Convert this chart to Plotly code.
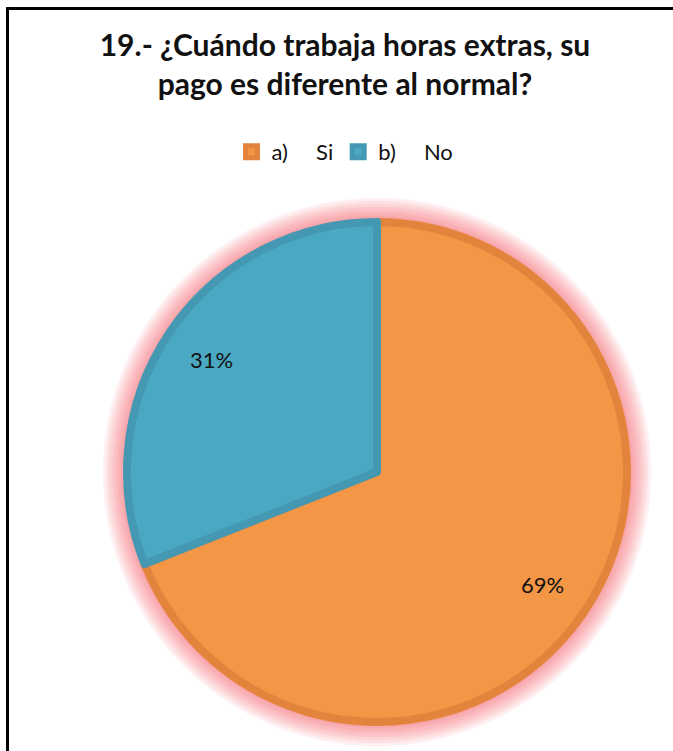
import math
import plotly.graph_objects as go

labels = ["a)\u00a0\u00a0\u00a0\u00a0\u00a0Si", "b)\u00a0\u00a0\u00a0\u00a0\u00a0No"]
values = [69, 31]
fill_colors = ["#F39646", "#4AA8C3"]
edge_colors = ["#E3843D", "#4598B2"]
title_text = "<b>19.- ¿Cuándo trabaja horas extras, su<br>pago es diferente al normal?</b>"

W, H = 673, 751
cx, cy, R = 377, 472, 250  # pie centre / radius in pixels (from top-left)
FONT = "Lato, Open Sans, sans-serif"

def px_x(x):
    return x / W

def px_y(y):
    return 1 - y / H

fig = go.Figure()
fig.add_trace(go.Pie(
    labels=labels,
    values=values,
    sort=False,
    direction="clockwise",
    rotation=0,
    marker=dict(colors=fill_colors, line=dict(color=edge_colors, width=8)),
    textinfo="none",
    domain=dict(x=[px_x(cx - R), px_x(cx + R)], y=[px_y(cy + R), px_y(cy - R)]),
    hoverinfo="label+percent",
))

# percentage labels placed at the mid-angle of each slice
total = sum(values)
annotations = []
cum = 0
for v in values:
    mid = (cum + v / 2) / total * 2 * math.pi
    cum += v
    lx = cx + 0.8 * R * math.sin(mid)
    ly = cy - 0.8 * R * math.cos(mid)
    annotations.append(dict(x=px_x(lx), y=px_y(ly), xref="paper", yref="paper",
                            xanchor="center", yanchor="middle",
                            text=f"{round(v / total * 100)}%", showarrow=False,
                            font=dict(family=FONT, size=22, color="#111111")))

shapes = []
# soft pink glow around the pie
for d in [24, 21, 18, 15, 12, 9, 6, 3]:
    r = R + d
    shapes.append(dict(type="circle", xref="paper", yref="paper", layer="below",
                       x0=px_x(cx - r), x1=px_x(cx + r), y0=px_y(cy + r), y1=px_y(cy - r),
                       fillcolor="rgba(238,70,85,0.085)", line=dict(width=0)))
# frame lines (left and top)
shapes.append(dict(type="line", xref="paper", yref="paper", x0=px_x(7.5), x1=px_x(7.5), y0=0, y1=px_y(7),
                   line=dict(color="black", width=3)))
shapes.append(dict(type="line", xref="paper", yref="paper", x0=px_x(6), x1=1, y0=px_y(8.5), y1=px_y(8.5),
                   line=dict(color="black", width=3)))

fig.update_layout(
    width=W, height=H,
    margin=dict(l=0, r=0, t=0, b=0),
    paper_bgcolor="white",
    plot_bgcolor="white",
    shapes=shapes,
    annotations=annotations,
    title=dict(text=title_text, x=px_x(345), xanchor="center", y=px_y(56), yanchor="middle",
               font=dict(family=FONT, size=30, color="#111111")),
    legend=dict(orientation="h", x=px_x(345), xanchor="center", y=px_y(152), yanchor="middle",
                font=dict(family=FONT, size=22, color="#111111"),
                itemwidth=30, traceorder="normal"),
)

fig.write_html("out.html")
